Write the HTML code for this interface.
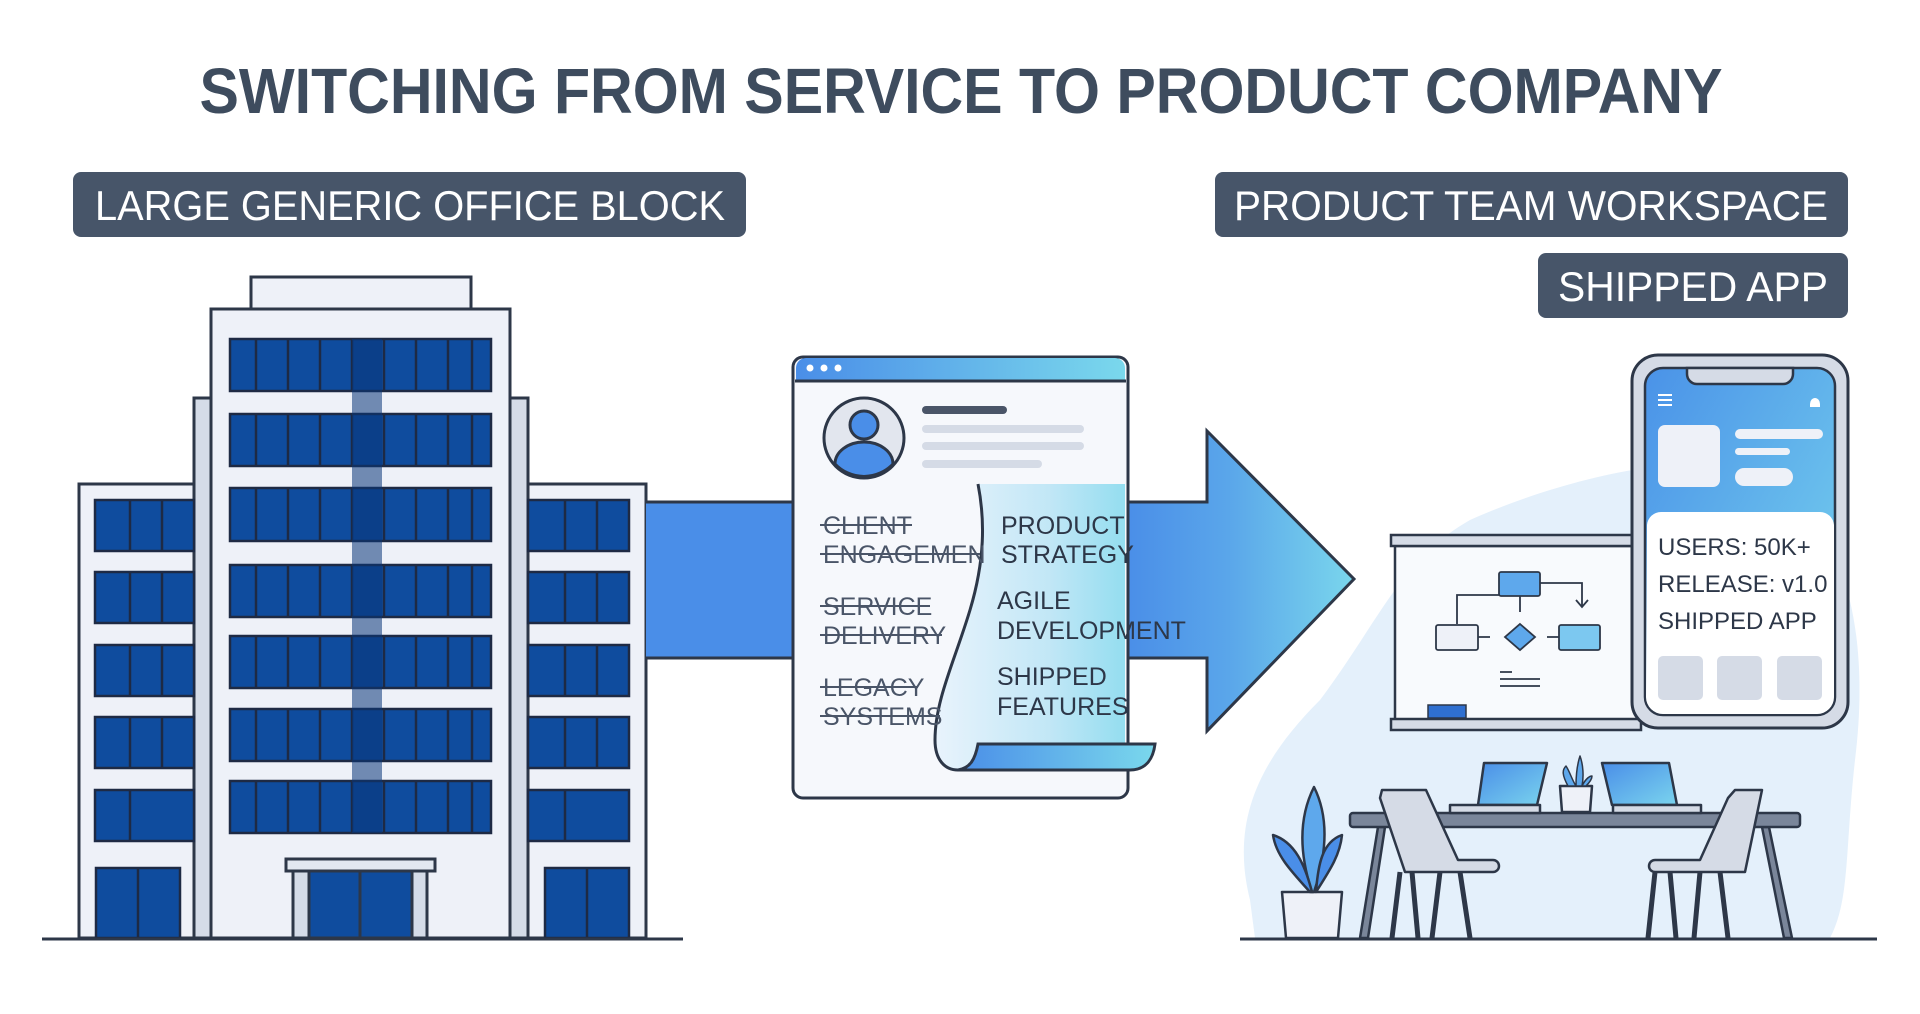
<!DOCTYPE html>
<html><head><meta charset="utf-8"><style>
html,body{margin:0;padding:0;background:#fff;}
svg{display:block;}
text{font-family:"Liberation Sans",sans-serif;}
</style></head><body>
<svg width="1920" height="1014" viewBox="0 0 1920 1014" xmlns="http://www.w3.org/2000/svg">
<defs>
<linearGradient id="band" x1="0" y1="0" x2="1" y2="0">
<stop offset="0" stop-color="#4a8ee8"/><stop offset="0.45" stop-color="#5aa6ea"/><stop offset="1" stop-color="#7ad6ec"/></linearGradient>
<linearGradient id="hdr" x1="0" y1="0" x2="1" y2="0"><stop offset="0" stop-color="#4a8ee8"/><stop offset="1" stop-color="#7ad8ec"/></linearGradient>
<linearGradient id="scroll" x1="0" y1="0" x2="1" y2="0"><stop offset="0" stop-color="#e8f3fc"/><stop offset="0.6" stop-color="#bfe6f6"/><stop offset="1" stop-color="#8fdcef"/></linearGradient>
<linearGradient id="phone" x1="0" y1="0" x2="1" y2="1"><stop offset="0" stop-color="#4a92e8"/><stop offset="1" stop-color="#78d4ee"/></linearGradient>
<linearGradient id="lap" x1="0" y1="0" x2="1" y2="1"><stop offset="0" stop-color="#4a8ee8"/><stop offset="1" stop-color="#7ad4ee"/></linearGradient>
</defs>

<!-- Title -->
<text x="961" y="113" font-size="64" font-weight="bold" fill="#3e4c5e" text-anchor="middle" textLength="1523" lengthAdjust="spacingAndGlyphs">SWITCHING FROM SERVICE TO PRODUCT COMPANY</text>

<!-- Labels -->
<rect x="73" y="172" width="673" height="65" rx="8" fill="#475569"/>
<text x="95" y="220" font-size="42" fill="#fff" textLength="630" lengthAdjust="spacingAndGlyphs">LARGE GENERIC OFFICE BLOCK</text>
<rect x="1215" y="172" width="633" height="65" rx="8" fill="#475569"/>
<text x="1234" y="220" font-size="42" fill="#fff" textLength="594" lengthAdjust="spacingAndGlyphs">PRODUCT TEAM WORKSPACE</text>
<rect x="1538" y="253" width="310" height="65" rx="8" fill="#475569"/>
<text x="1558" y="301" font-size="42" fill="#fff" textLength="270" lengthAdjust="spacingAndGlyphs">SHIPPED APP</text>

<!-- Building -->
<g stroke="#2d3748" stroke-width="3">
<rect x="79" y="484" width="567" height="454" fill="#eef1f8"/>
<rect x="194" y="398" width="334" height="540" fill="#d5dce8"/>
<rect x="211" y="309" width="299" height="629" fill="#eef1f8"/>
<rect x="251" y="277" width="220" height="32" fill="#eef1f8"/>
</g>
<g fill="#0f4c9e" stroke="#1e2a44" stroke-width="2.5">
<rect x="230" y="339" width="261" height="52"/><rect x="230" y="414" width="261" height="52"/>
<rect x="230" y="488" width="261" height="53"/><rect x="230" y="565" width="261" height="52"/>
<rect x="230" y="636" width="261" height="52"/><rect x="230" y="709" width="261" height="52"/>
<rect x="230" y="781" width="261" height="52"/>
<rect x="95" y="500" width="99" height="51"/><rect x="95" y="572" width="99" height="51"/>
<rect x="95" y="645" width="99" height="51"/><rect x="95" y="717" width="99" height="51"/>
<rect x="95" y="790" width="99" height="51"/>
<rect x="528" y="500" width="101" height="51"/><rect x="528" y="572" width="101" height="51"/>
<rect x="528" y="645" width="101" height="51"/><rect x="528" y="717" width="101" height="51"/>
<rect x="528" y="790" width="101" height="51"/>
<rect x="96" y="868" width="84" height="70"/><rect x="545" y="868" width="84" height="70"/>
</g>
<g stroke="#1e2a44" stroke-width="2.5">
<path d="M256 339V391M288 339V391M320 339V391M352 339V391M384 339V391M416 339V391M448 339V391M472 339V391
M256 414V466M288 414V466M320 414V466M352 414V466M384 414V466M416 414V466M448 414V466M472 414V466
M256 488V541M288 488V541M320 488V541M352 488V541M384 488V541M416 488V541M448 488V541M472 488V541
M256 565V617M288 565V617M320 565V617M352 565V617M384 565V617M416 565V617M448 565V617M472 565V617
M256 636V688M288 636V688M320 636V688M352 636V688M384 636V688M416 636V688M448 636V688M472 636V688
M256 709V761M288 709V761M320 709V761M352 709V761M384 709V761M416 709V761M448 709V761M472 709V761
M256 781V833M288 781V833M320 781V833M352 781V833M384 781V833M416 781V833M448 781V833M472 781V833"/>
<path d="M130 500V551M162 500V551M130 572V623M162 572V623M130 645V696M162 645V696M130 717V768M162 717V768M130 790V841
M565 500V551M597 500V551M565 572V623M597 572V623M565 645V696M597 645V696M565 717V768M597 717V768M565 790V841
M138 868V938M587 868V938"/>
</g>
<rect x="352" y="339" width="30" height="494" fill="#0a3478" opacity="0.55"/>
<g stroke="#2d3748" stroke-width="3">
<rect x="293" y="871" width="134" height="67" fill="#d5dce8"/>
<rect x="309" y="871" width="103" height="67" fill="#0f4c9e"/>
<line x1="360" y1="871" x2="360" y2="938"/>
<rect x="286" y="859" width="149" height="12" fill="#e2e8f0"/>
</g>
<line x1="42" y1="939" x2="683" y2="939" stroke="#2d3748" stroke-width="3"/>

<!-- Band + arrow -->
<rect x="646" y="502" width="150" height="156" fill="#4a8ee8"/>
<path d="M1126 502H1207V431L1354 579L1207 731V658H1126Z" fill="url(#band)" stroke="#2d3748" stroke-width="3"/>
<line x1="646" y1="502" x2="796" y2="502" stroke="#2d3748" stroke-width="3"/>
<line x1="646" y1="658" x2="796" y2="658" stroke="#2d3748" stroke-width="3"/>

<!-- Document -->
<rect x="793" y="357" width="335" height="441" rx="10" fill="#f6f8fc" stroke="#2d3748" stroke-width="3"/>
<path d="M796 380V368a10 10 0 0 1 10-10H1115a10 10 0 0 1 10 10V380Z" fill="url(#hdr)"/>
<line x1="795" y1="381" x2="1126" y2="381" stroke="#2d3748" stroke-width="3"/>
<circle cx="810" cy="368" r="3.5" fill="#fff"/><circle cx="824" cy="368" r="3.5" fill="#fff"/><circle cx="838" cy="368" r="3.5" fill="#fff"/>
<circle cx="864" cy="438" r="40" fill="#e2e6ee" stroke="#2d3748" stroke-width="3"/>
<circle cx="864" cy="425" r="14" fill="#4a8ee8" stroke="#2d3748" stroke-width="3"/>
<path d="M835 464a29 22 0 0 1 58 0a40 40 0 0 1-58 0Z" fill="#4a8ee8" stroke="#2d3748" stroke-width="3"/>
<rect x="922" y="406" width="85" height="8" rx="4" fill="#4a5568"/>
<rect x="922" y="425" width="162" height="8" rx="4" fill="#d5dbe6"/>
<rect x="922" y="442" width="162" height="8" rx="4" fill="#d5dbe6"/>
<rect x="922" y="460" width="120" height="8" rx="4" fill="#d5dbe6"/>
<!-- scroll -->
<path d="M978 484C985 520 985 560 970 610C955 660 935 700 935 740C935 760 945 770 958 770L1125 770V484Z" fill="url(#scroll)" opacity="0.95"/>
<path d="M978 484C985 520 985 560 970 610C955 660 935 700 935 740C935 760 945 770 958 770" fill="none" stroke="#2d3748" stroke-width="3"/>
<path d="M958 770C970 768 975 760 978 744H1155C1153 760 1145 770 1130 770Z" fill="url(#hdr)" stroke="#2d3748" stroke-width="3"/>
<g font-size="25" fill="#4a5568">
<text x="823" y="534">CLIENT</text><text x="823" y="563">ENGAGEMEN</text>
<text x="823" y="615">SERVICE</text><text x="823" y="644">DELIVERY</text>
<text x="823" y="696">LEGACY</text><text x="823" y="725">SYSTEMS</text>
</g>
<g stroke="#4a5568" stroke-width="2">
<path d="M820 525H912M820 554H980M820 606H930M820 635H942M820 687H918M820 716H940"/>
</g>
<g font-size="25" fill="#2d3748">
<text x="1001" y="534">PRODUCT</text><text x="1001" y="563">STRATEGY</text>
<text x="997" y="609">AGILE</text><text x="997" y="639">DEVELOPMENT</text>
<text x="997" y="685">SHIPPED</text><text x="997" y="715">FEATURES</text>
</g>

<!-- Right workspace blob -->
<path d="M1250 900C1230 820 1260 760 1320 700C1380 620 1400 560 1470 520C1560 480 1680 450 1760 470C1850 520 1870 640 1855 760C1845 850 1850 900 1830 938H1255Z" fill="#e4f0fb"/>
<!-- whiteboard -->
<rect x="1395" y="546" width="246" height="174" fill="#f8fafd" stroke="#2d3748" stroke-width="2.5"/>
<rect x="1391" y="535" width="250" height="11" fill="#d5dbe6" stroke="#2d3748" stroke-width="2.5"/>
<rect x="1391" y="719" width="250" height="11" fill="#d5dbe6" stroke="#2d3748" stroke-width="2.5"/>
<rect x="1428" y="705" width="38" height="13" fill="#2f6fd0" stroke="#2d3748" stroke-width="1.5"/>
<g stroke="#2d3748" stroke-width="1.8" fill="none">
<path d="M1457 624V595H1499M1520 596V612M1540 583H1582V606M1576 600L1582 607L1588 600M1478 637H1490M1547 637H1559"/>
<path d="M1500 672H1512M1500 679H1540M1500 686H1540"/>
</g>
<rect x="1499" y="572" width="41" height="24" rx="2" fill="#5ea8ec" stroke="#2d3748" stroke-width="1.8"/>
<rect x="1436" y="625" width="42" height="25" rx="2" fill="#eef1f8" stroke="#2d3748" stroke-width="1.8"/>
<rect x="1559" y="625" width="41" height="25" rx="2" fill="#7cc8f0" stroke="#2d3748" stroke-width="1.8"/>
<path d="M1520 624L1535 637L1520 650L1505 637Z" fill="#5ea8ec" stroke="#2d3748" stroke-width="1.8"/>

<!-- Phone -->
<rect x="1632" y="355" width="216" height="373" rx="26" fill="#d5dbe6" stroke="#2d3748" stroke-width="3"/>
<rect x="1645" y="368" width="190" height="347" rx="18" fill="url(#phone)" stroke="#2d3748" stroke-width="2.5"/>
<path d="M1687 368V374a10 10 0 0 0 10 10H1783a10 10 0 0 0 10-10V368Z" fill="#d5dbe6" stroke="#2d3748" stroke-width="2.5"/>
<path d="M1647 525a14 14 0 0 1 14-13H1820a14 14 0 0 1 14 13V697a17 17 0 0 1-17 17H1663a17 17 0 0 1-17-17Z" fill="#fff"/>
<path d="M1658 395H1672M1658 400H1672M1658 405H1672" stroke="#fff" stroke-width="2"/>
<path d="M1810 404a5 6 0 0 1 10 0v3h-10Z" fill="#fff"/>
<rect x="1658" y="425" width="62" height="62" rx="7" fill="#eef1f8"/>
<rect x="1735" y="429" width="88" height="10" rx="5" fill="#eef1f8"/>
<rect x="1735" y="448" width="55" height="7" rx="3.5" fill="#eef1f8"/>
<rect x="1735" y="468" width="58" height="18" rx="9" fill="#eef1f8"/>
<g font-size="24" fill="#2d3748">
<text x="1658" y="555">USERS: 50K+</text>
<text x="1658" y="592">RELEASE: v1.0</text>
<text x="1658" y="629">SHIPPED APP</text>
</g>
<rect x="1658" y="656" width="45" height="44" rx="5" fill="#d5dbe6"/>
<rect x="1717" y="656" width="45" height="44" rx="5" fill="#d5dbe6"/>
<rect x="1777" y="656" width="45" height="44" rx="5" fill="#d5dbe6"/>

<!-- Table & chairs -->
<g stroke="#2d3748" stroke-width="2.5" stroke-linejoin="round">
<path d="M1378 827L1385 827L1368 938L1360 938Z" fill="#7a869a"/>
<path d="M1762 827L1769 827L1792 938L1784 938Z" fill="#7a869a"/>
<rect x="1350" y="813" width="450" height="14" rx="3" fill="#7a869a"/>
<path d="M1484 763H1547L1537 805H1478Z" fill="url(#lap)"/>
<rect x="1450" y="805" width="90" height="8" fill="#d5dbe6"/>
<path d="M1602 763H1669L1677 805H1612Z" fill="url(#lap)"/>
<rect x="1613" y="805" width="88" height="8" fill="#d5dbe6"/>
<path d="M1560 786H1592L1590 812H1562Z" fill="#eef1f8"/>
<path d="M1568 786C1562 775 1562 770 1566 766C1570 772 1572 780 1576 786C1576 770 1578 762 1580 756C1583 764 1584 776 1582 786C1586 778 1590 776 1592 776C1592 780 1588 784 1586 786Z" fill="#5ea8ec" stroke-width="1.5"/>
<!-- left chair -->
<path d="M1400 872L1392 938M1412 872L1418 938M1440 872L1432 938M1460 872L1470 938" stroke-width="5"/>
<path d="M1382 790H1426L1458 860H1493a5 5 0 0 1 0 12H1405L1380 798Z" fill="#d5dbe6"/>
<!-- right chair -->
<path d="M1655 872L1648 938M1670 872L1676 938M1700 872L1694 938M1720 872L1728 938" stroke-width="5"/>
<path d="M1735 790H1762L1745 872H1655a5 5 0 0 1 0-12H1700L1728 798Z" fill="#d5dbe6"/>
<!-- floor plant -->
<path d="M1282 892H1342L1338 938H1286Z" fill="#eef1f8"/>
<path d="M1312 892C1298 850 1300 815 1314 787C1328 815 1328 850 1314 892Z" fill="#5ea8ec"/>
<path d="M1310 892C1290 870 1276 855 1273 835C1295 842 1305 865 1312 892Z" fill="#4a8ee8"/>
<path d="M1316 892C1330 870 1340 855 1342 835C1322 842 1318 865 1316 892Z" fill="#4a8ee8"/>
</g>
<line x1="1240" y1="939" x2="1877" y2="939" stroke="#2d3748" stroke-width="3"/>
</svg>
</body></html>
